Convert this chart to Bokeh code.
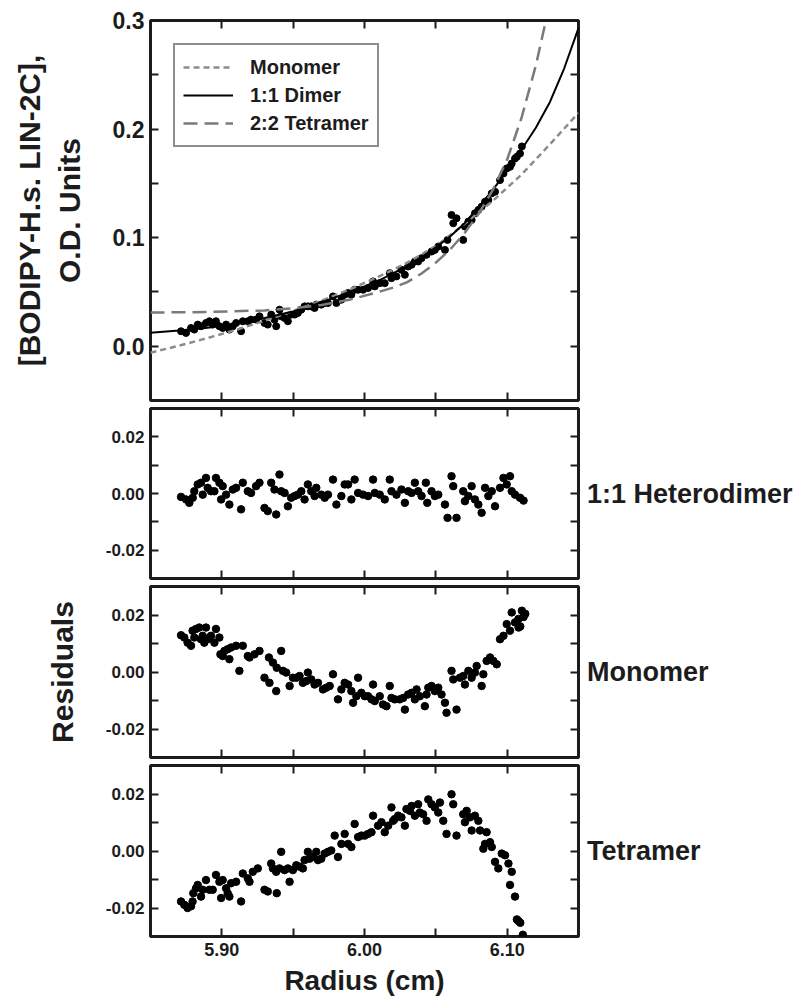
from bokeh.plotting import figure
from bokeh.models import (Range1d, LinearAxis, FixedTicker, PrintfTickFormatter,
                          CustomLabelingPolicy)
from bokeh.layouts import column
from bokeh.embed import file_html
from bokeh.resources import INLINE

FONT = "Liberation Sans"
INK = "#1c1c1c"

# ---------------- data ----------------
# fitted curves (top panel)
mono_r = [5.85, 5.87, 5.89, 5.91, 5.93, 5.95, 5.97, 5.99, 6.01, 6.03, 6.05, 6.07, 6.09, 6.11, 6.13, 6.15]
mono_od = [-0.006, 0.0005, 0.0075, 0.015, 0.0235, 0.0325, 0.042, 0.0525, 0.064, 0.077, 0.092, 0.1125, 0.134, 0.158, 0.186, 0.215]

dimer_r = [5.85, 5.87, 5.89, 5.91, 5.93, 5.95, 5.97, 5.99, 6.00, 6.01, 6.02, 6.03, 6.04, 6.05, 6.06,
           6.07, 6.08, 6.09, 6.10, 6.11, 6.12, 6.13, 6.14, 6.15]
dimer_od = [0.0125, 0.0145, 0.017, 0.0205, 0.026, 0.032, 0.0405, 0.050, 0.055, 0.0605, 0.067, 0.074, 0.082, 0.091, 0.101,
            0.113, 0.128, 0.144, 0.162, 0.181, 0.201, 0.225, 0.256, 0.293]

tetra_r = [5.85, 5.89, 5.93, 5.95, 5.97, 5.99, 6.01, 6.02, 6.03, 6.04, 6.05, 6.06, 6.07, 6.08, 6.09, 6.10, 6.11, 6.12, 6.128]
tetra_od = [0.031, 0.0315, 0.033, 0.035, 0.038, 0.043, 0.050, 0.054, 0.059, 0.067, 0.077, 0.089, 0.104, 0.122, 0.144, 0.172, 0.210, 0.258, 0.305]

# measured concentrations (top panel)
obs_r = [5.8714, 5.8749, 5.8784, 5.8807, 5.8831, 5.8854, 5.8889, 5.8913, 5.8936, 5.8959,
         5.8983, 5.9006, 5.9030, 5.9053, 5.9077, 5.9100, 5.9135, 5.9147, 5.9182, 5.9205,
         5.9240, 5.9264, 5.9299, 5.9322, 5.9346, 5.9369, 5.9381, 5.9404, 5.9416, 5.9440,
         5.9463, 5.9486, 5.9510, 5.9533, 5.9557, 5.9580, 5.9603, 5.9627, 5.9650, 5.9662,
         5.9697, 5.9721, 5.9744, 5.9779, 5.9803, 5.9838, 5.9861, 5.9885, 5.9908, 5.9931,
         5.9955, 5.9990, 6.0025, 6.0060, 6.0072, 6.0107, 6.0142, 6.0177, 6.0189, 6.0224,
         6.0259, 6.0283, 6.0306, 6.0330, 6.0353, 6.0376, 6.0400, 6.0435, 6.0470, 6.0493,
         6.0517, 6.0564, 6.0582, 6.0610, 6.0622, 6.0645, 6.0692, 6.0704, 6.0728, 6.0751,
         6.0774, 6.0798, 6.0821, 6.0845, 6.0868, 6.0892, 6.0915, 6.0950, 6.0974, 6.0997,
         6.1020, 6.1032, 6.1055, 6.1068, 6.1090, 6.1103]
obs_od = [0.0138, 0.0122, 0.0168, 0.0153, 0.0199, 0.0184, 0.0214, 0.0230, 0.0199, 0.0230,
          0.0184, 0.0168, 0.0199, 0.0153, 0.0184, 0.0214, 0.0138, 0.0230, 0.0230, 0.0245,
          0.0245, 0.0275, 0.0214, 0.0199, 0.0291, 0.0245, 0.0184, 0.0337, 0.0275, 0.0260,
          0.0230, 0.0291, 0.0291, 0.0306, 0.0337, 0.0367, 0.0367, 0.0367, 0.0352, 0.0383,
          0.0383, 0.0398, 0.0398, 0.0459, 0.0398, 0.0428, 0.0474, 0.0490, 0.0474, 0.0520,
          0.0520, 0.0520, 0.0536, 0.0597, 0.0551, 0.0581, 0.0581, 0.0673, 0.0627, 0.0643,
          0.0704, 0.0658, 0.0734, 0.0750, 0.0780, 0.0780, 0.0811, 0.0842, 0.0872, 0.0887,
          0.0918, 0.0887, 0.0979, 0.1209, 0.1132, 0.1178, 0.0979, 0.1102, 0.1148, 0.1163,
          0.1224, 0.1255, 0.1285, 0.1331, 0.1346, 0.1408, 0.1423, 0.1530, 0.1591, 0.1637,
          0.1652, 0.1683, 0.1729, 0.1745, 0.1775, 0.1840]

# residuals: 1:1 heterodimer
hd_r = [5.8714, 5.8749, 5.8772, 5.8796, 5.8807, 5.8831, 5.8854, 5.8866, 5.8889, 5.8901,
        5.8924, 5.8948, 5.8959, 5.8983, 5.8995, 5.9006, 5.9030, 5.9053, 5.9077, 5.9100,
        5.9135, 5.9147, 5.9182, 5.9205, 5.9240, 5.9264, 5.9299, 5.9322, 5.9346, 5.9369,
        5.9381, 5.9404, 5.9416, 5.9440, 5.9463, 5.9486, 5.9510, 5.9533, 5.9557, 5.9580,
        5.9603, 5.9627, 5.9650, 5.9662, 5.9697, 5.9721, 5.9744, 5.9779, 5.9803, 5.9838,
        5.9861, 5.9885, 5.9908, 5.9931, 5.9955, 5.9990, 6.0025, 6.0060, 6.0072, 6.0107,
        6.0142, 6.0177, 6.0189, 6.0224, 6.0259, 6.0283, 6.0306, 6.0330, 6.0353, 6.0376,
        6.0400, 6.0430, 6.0440, 6.0470, 6.0493, 6.0517, 6.0564, 6.0582, 6.0610, 6.0622,
        6.0645, 6.0692, 6.0704, 6.0728, 6.0751, 6.0774, 6.0798, 6.0821, 6.0845, 6.0868,
        6.0892, 6.0915, 6.0950, 6.0974, 6.0997, 6.1020, 6.1032, 6.1055, 6.1090, 6.1115]
hd_res = [-0.0012, -0.0021, -0.0033, -0.0015, 0.0008, 0.0032, 0.0038, -0.0004, 0.0055, 0.0020,
          0.0008, 0.0008, 0.0055, 0.0038, -0.0021, 0.0026, -0.0004, -0.0039, 0.0014, 0.0020,
          -0.0056, 0.0038, 0.0008, 0.0002, 0.0026, 0.0038, -0.0051, -0.0062, 0.0038, 0.0014,
          -0.0074, 0.0067, 0.0008, 0.0002, -0.0045, -0.0015, -0.0009, -0.0004, 0.0008, -0.0021,
          0.0032, 0.0008, -0.0009, 0.0020, -0.0004, -0.0015, -0.0004, 0.0049, -0.0039, -0.0009,
          0.0032, 0.0032, -0.0021, 0.0049, 0.0002, -0.0004, -0.0009, 0.0049, 0.0002, -0.0004,
          -0.0021, 0.0049, 0.0008, -0.0004, 0.0014, -0.0033, 0.0008, 0.0002, 0.0038, 0.0008,
          -0.0009, 0.0038, -0.0033, 0.0008, -0.0009, -0.0004, -0.0039, -0.0086, 0.0061, 0.0026,
          -0.0086, 0.0008, -0.0027, -0.0009, 0.0026, -0.0021, -0.0039, -0.0068, 0.0020, -0.0009,
          0.0008, -0.0045, 0.0020, 0.0055, 0.0032, 0.0061, 0.0008, -0.0004, -0.0015, -0.0025]

# residuals: monomer
mo_r = [5.8714, 5.8737, 5.8760, 5.8784, 5.8795, 5.8807, 5.8819, 5.8842, 5.8854, 5.8866,
        5.8877, 5.8889, 5.8901, 5.8924, 5.8948, 5.8959, 5.8983, 5.8990, 5.9006, 5.9018,
        5.9041, 5.9053, 5.9065, 5.9100, 5.9123, 5.9147, 5.9182, 5.9194, 5.9229, 5.9264,
        5.9299, 5.9330, 5.9334, 5.9358, 5.9381, 5.9385, 5.9416, 5.9428, 5.9451, 5.9475,
        5.9498, 5.9522, 5.9545, 5.9568, 5.9592, 5.9603, 5.9627, 5.9650, 5.9674, 5.9709,
        5.9732, 5.9756, 5.9779, 5.9814, 5.9838, 5.9861, 5.9885, 5.9908, 5.9920, 5.9943,
        5.9955, 5.9978, 6.0002, 6.0025, 6.0049, 6.0060, 6.0072, 6.0107, 6.0130, 6.0154,
        6.0177, 6.0189, 6.0212, 6.0247, 6.0271, 6.0283, 6.0306, 6.0330, 6.0353, 6.0365,
        6.0388, 6.0423, 6.0435, 6.0447, 6.0470, 6.0493, 6.0517, 6.0540, 6.0564, 6.0575,
        6.0610, 6.0622, 6.0645, 6.0669, 6.0692, 6.0704, 6.0728, 6.0751, 6.0774, 6.0786,
        6.0821, 6.0833, 6.0856, 6.0880, 6.0903, 6.0927, 6.0950, 6.0974, 6.0997, 6.1020,
        6.1032, 6.1055, 6.1079, 6.1080, 6.1092, 6.1103, 6.1115, 6.1127]
mo_res = [0.0129, 0.0121, 0.0103, 0.0092, 0.0145, 0.0121, 0.0151, 0.0156, 0.0115, 0.0127,
          0.0103, 0.0156, 0.0115, 0.0127, 0.0103, 0.0151, 0.0121, 0.0062, 0.0056, 0.0074,
          0.0080, 0.0045, 0.0086, 0.0092, 0.0004, 0.0092, 0.0056, 0.0051, 0.0062, 0.0074,
          -0.0020, 0.0051, -0.0038, 0.0033, -0.0067, 0.0015, 0.0074, 0.0004, -0.0002, -0.0049,
          -0.0020, -0.0020, -0.0014, -0.0038, -0.0032, -0.0002, -0.0026, -0.0044, -0.0038, -0.0061,
          -0.0055, -0.0049, -0.0008, -0.0096, -0.0061, -0.0038, -0.0044, -0.0067, -0.0108, -0.0085,
          -0.0020, -0.0073, -0.0085, -0.0085, -0.0096, -0.0044, -0.0102, -0.0085, -0.0114, -0.0120,
          -0.0049, -0.0091, -0.0096, -0.0096, -0.0091, -0.0132, -0.0079, -0.0073, -0.0096, -0.0061,
          -0.0085, -0.0120, -0.0079, -0.0055, -0.0049, -0.0067, -0.0055, -0.0079, -0.0108, -0.0143,
          0.0004, -0.0026, -0.0132, -0.0020, -0.0014, -0.0044, 0.0004, -0.0020, -0.0002, 0.0021,
          -0.0049, -0.0008, 0.0039, 0.0051, 0.0039, 0.0027, 0.0115, 0.0127, 0.0168, 0.0145,
          0.0209, 0.0174, 0.0186, 0.0156, 0.0160, 0.0215, 0.0193, 0.0204]

# residuals: tetramer
te_r = [5.8714, 5.8737, 5.8760, 5.8784, 5.8795, 5.8800, 5.8819, 5.8831, 5.8854, 5.8866,
        5.8889, 5.8913, 5.8936, 5.8959, 5.8983, 5.8995, 5.9006, 5.9030, 5.9041, 5.9053,
        5.9065, 5.9100, 5.9135, 5.9147, 5.9182, 5.9194, 5.9217, 5.9252, 5.9299, 5.9322,
        5.9346, 5.9358, 5.9381, 5.9385, 5.9404, 5.9416, 5.9440, 5.9463, 5.9475, 5.9498,
        5.9522, 5.9545, 5.9568, 5.9580, 5.9603, 5.9615, 5.9639, 5.9662, 5.9674, 5.9697,
        5.9721, 5.9744, 5.9767, 5.9791, 5.9814, 5.9838, 5.9861, 5.9885, 5.9908, 5.9931,
        5.9955, 5.9978, 6.0002, 6.0025, 6.0049, 6.0060, 6.0095, 6.0119, 6.0142, 6.0166,
        6.0189, 6.0201, 6.0212, 6.0236, 6.0259, 6.0283, 6.0294, 6.0318, 6.0330, 6.0353,
        6.0376, 6.0388, 6.0411, 6.0435, 6.0447, 6.0470, 6.0493, 6.0517, 6.0529, 6.0552,
        6.0575, 6.0610, 6.0622, 6.0645, 6.0692, 6.0704, 6.0716, 6.0739, 6.0751, 6.0774,
        6.0798, 6.0810, 6.0833, 6.0845, 6.0856, 6.0880, 6.0892, 6.0915, 6.0938, 6.0962,
        6.0985, 6.1009, 6.1020, 6.1032, 6.1055, 6.1068, 6.1080, 6.1092, 6.1110]
te_res = [-0.0177, -0.0189, -0.0200, -0.0194, -0.0177, -0.0148, -0.0131, -0.0119, -0.0160, -0.0136,
          -0.0102, -0.0136, -0.0136, -0.0084, -0.0108, -0.0165, -0.0102, -0.0131, -0.0148, -0.0160,
          -0.0113, -0.0108, -0.0177, -0.0079, -0.0096, -0.0108, -0.0073, -0.0061, -0.0136, -0.0142,
          -0.0044, -0.0061, -0.0073, -0.0148, -0.0061, -0.0003, -0.0067, -0.0061, -0.0108, -0.0067,
          -0.0050, -0.0055, -0.0061, -0.0032, -0.0003, -0.0027, -0.0021, -0.0003, -0.0032, -0.0027,
          -0.0009, -0.0003, 0.0002, 0.0054, -0.0021, 0.0025, 0.0060, 0.0025, 0.0014, 0.0095,
          0.0049, 0.0054, 0.0054, 0.0060, 0.0066, 0.0124, 0.0089, 0.0101, 0.0066, 0.0089,
          0.0153, 0.0106, 0.0112, 0.0124, 0.0118, 0.0089, 0.0147, 0.0141, 0.0158, 0.0124,
          0.0164, 0.0135, 0.0129, 0.0106, 0.0181, 0.0164, 0.0153, 0.0135, 0.0170, 0.0106,
          0.0060, 0.0199, 0.0164, 0.0054, 0.0129, 0.0101, 0.0141, 0.0118, 0.0072, 0.0124,
          0.0106, 0.0072, 0.0008, 0.0025, 0.0066, 0.0031, 0.0014, -0.0038, -0.0061, -0.0009,
          -0.0015, -0.0044, -0.0119, -0.0073, -0.0160, -0.0240, -0.0246, -0.0252, -0.0294]

# axis ticks / labels
x_major = [5.90, 6.00, 6.10]
x_minor = [5.95, 6.05]
top_major = [0.0, 0.1, 0.2, 0.3]
top_minor = [0.05, 0.15, 0.25]
res_major = [-0.02, 0.0, 0.02]
res_minor = [-0.01, 0.01]
legend_names = ["Monomer", "1:1 Dimer", "2:2 Tetramer"]
panel_names = ["1:1 Heterodimer", "Monomer", "Tetramer"]

# ---------------- figures ----------------
x_range = Range1d(5.85, 6.15)


def tick_axis(ax, ticker, fmt, size):
    ax.ticker = ticker
    ax.axis_line_color = None
    ax.major_tick_in = 8
    ax.major_tick_out = 0
    ax.minor_tick_in = 8
    ax.minor_tick_out = 0
    ax.major_tick_line_width = 2
    ax.minor_tick_line_width = 2
    ax.major_tick_line_color = INK
    ax.minor_tick_line_color = INK
    if size is None:
        ax.major_label_policy = CustomLabelingPolicy(code="return new Set()")
        ax.major_label_text_font_size = "1px"
        ax.major_label_standoff = 0
    else:
        ax.formatter = PrintfTickFormatter(format=fmt)
        ax.major_label_text_font = FONT
        ax.major_label_text_font_size = size
        ax.major_label_text_font_style = "bold"
        ax.major_label_text_color = INK
        ax.major_label_standoff = 6


def panel(frame_h, y_lo, y_hi, y_major, y_minor, y_fmt, y_size, top_b, bot_b, x_labels):
    p = figure(x_range=x_range, y_range=Range1d(y_lo, y_hi),
               frame_width=428, frame_height=frame_h,
               min_border_left=150, min_border_right=220,
               min_border_top=top_b, min_border_bottom=bot_b,
               output_backend="svg", toolbar_location=None)
    p.xgrid.visible = False
    p.ygrid.visible = False
    p.outline_line_color = INK
    p.outline_line_width = 3
    p.outline_line_alpha = 1
    tick_axis(p.below[0], FixedTicker(ticks=x_major, minor_ticks=x_minor), "%.2f", "18px" if x_labels else None)
    tick_axis(p.left[0], FixedTicker(ticks=y_major, minor_ticks=y_minor), y_fmt, y_size)
    ax_top = LinearAxis()
    tick_axis(ax_top, FixedTicker(ticks=x_major, minor_ticks=x_minor), None, None)
    p.add_layout(ax_top, "above")
    ax_right = LinearAxis()
    tick_axis(ax_right, FixedTicker(ticks=y_major, minor_ticks=y_minor), None, None)
    p.add_layout(ax_right, "right")
    return p


def set_title(ax, text, standoff, size="30px"):
    ax.axis_label = text
    ax.axis_label_text_font = FONT
    ax.axis_label_text_font_size = size
    ax.axis_label_text_font_style = "bold"
    ax.axis_label_text_color = INK
    ax.axis_label_standoff = standoff


# top panel
p1 = panel(380, -0.05, 0.3, top_major, top_minor, "%.1f", "23px", 20, 4, False)
set_title(p1.left[0], "[BODIPY-H.s. LIN-2C],\nO.D. Units", 24)
p1.scatter(obs_r, obs_od, size=7, color="black")
p1.line(mono_r, mono_od, line_color="#8c8c8c", line_width=2.5, line_dash="6 4", legend_label=legend_names[0])
p1.line(dimer_r, dimer_od, line_color="black", line_width=2, legend_label=legend_names[1])
p1.line(tetra_r, tetra_od, line_color="#7a7a7a", line_width=2.5, line_dash="14 7", legend_label=legend_names[2])
lg = p1.legend[0]
lg.location = "top_left"
lg.margin = 23
lg.padding = 8
lg.spacing = 0
lg.glyph_width = 50
lg.glyph_height = 28
lg.label_height = 28
lg.label_standoff = 17
lg.border_line_color = INK
lg.border_line_width = 2
lg.background_fill_alpha = 1
lg.label_text_font = FONT
lg.label_text_font_size = "20px"
lg.label_text_font_style = "bold"
lg.label_text_color = INK

# residual panels
p2 = panel(170, -0.03, 0.03, res_major, res_minor, "%.2f", "17px", 4, 3, False)
p2.scatter(hd_r, hd_res, size=7.5, color="black")

p3 = panel(171, -0.03, 0.03, res_major, res_minor, "%.2f", "17px", 4, 3, False)
p3.scatter(mo_r, mo_res, size=7.5, color="black")
set_title(p3.left[0], "Residuals", 24)

p4 = panel(171, -0.03, 0.03, res_major, res_minor, "%.2f", "17px", 4, 62, True)
p4.scatter(te_r, te_res, size=7.5, color="black")
set_title(p4.below[0], "Radius (cm)", 6, "28px")

# model names to the right of the residual panels
for p, name in zip([p2, p3, p4], panel_names):
    set_title(p.right[0], name, 3, "27px")
    p.right[0].axis_label_orientation = "horizontal"

layout = column(p1, p2, p3, p4, spacing=0)
open("out.html", "w").write(file_html(layout, INLINE))
